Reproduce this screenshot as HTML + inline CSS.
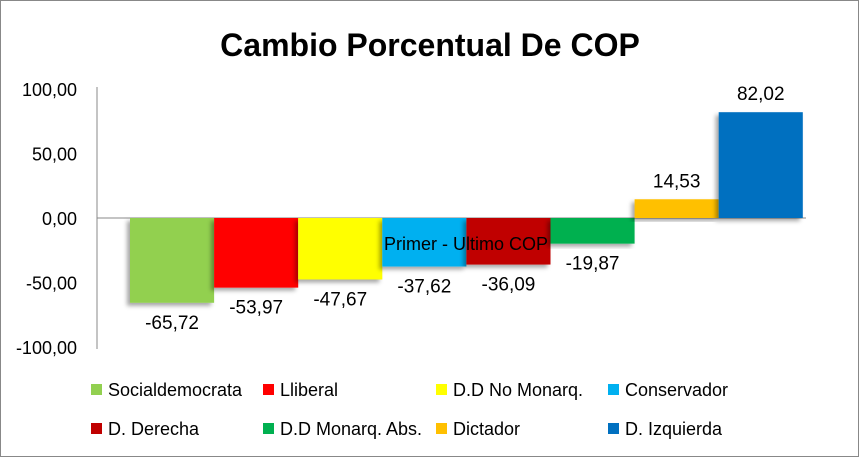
<!DOCTYPE html>
<html><head><meta charset="utf-8"><style>
body{margin:0;background:#fff}
svg{display:block;font-family:"Liberation Sans",sans-serif}
</style></head><body>
<svg id="chart" width="859" height="457">
<defs><filter id="sh" x="-20%" y="-20%" width="140%" height="140%"><feDropShadow dx="-3" dy="3" stdDeviation="2" flood-color="#000" flood-opacity="0.35"/></filter></defs>
<rect x="0.5" y="0.5" width="858" height="456" fill="#fff" stroke="#888"/>
<text x="430" y="56" text-anchor="middle" font-size="32" font-weight="bold" fill="#000">Cambio Porcentual De COP</text>
<g id="yaxis"></g><g id="bars"></g><g id="labels"></g><g id="legend"></g>
<text x="466" y="250" text-anchor="middle" font-size="18" fill="#000">Primer - Ultimo COP</text>
</svg>
<script>
const categories=["Socialdemocrata","Lliberal","D.D No Monarq.","Conservador","D. Derecha","D.D Monarq. Abs.","Dictador","D. Izquierda"];
const values=[-65.72,-53.97,-47.67,-37.62,-36.09,-19.87,14.53,82.02];
const colors=["#92d050","#ff0000","#ffff00","#00b0f0","#c00000","#00b050","#ffc000","#0070c0"];
const ticks=[100,50,0,-50,-100];
const NS="http://www.w3.org/2000/svg";
const y0=218,scale=1.29,x0=130,bw=84.1;
const y=v=>y0-v*scale;
const fmt=v=>v.toFixed(2).replace('.',',');
function mk(t,a,p){const e=document.createElementNS(NS,t);for(const k in a)e.setAttribute(k,a[k]);p.appendChild(e);return e;}
const ya=document.getElementById('yaxis');
let ax=mk('line',{x1:97,x2:97,y1:y(100)-2,y2:y(-100)+2,stroke:'#888'},ya);


ticks.forEach(t=>{const e=mk('text',{x:77,y:y(t)+7,'text-anchor':'end','font-size':18,fill:'#000'},ya);e.textContent=fmt(t);

});
let zl=mk('line',{x1:97,x2:806,y1:y0,y2:y0,stroke:'#888'},ya);


const bg=document.getElementById('bars'),lg=document.getElementById('labels');
values.forEach((v,i)=>{const x=x0+i*bw;const top=Math.min(y(v),y0),h=Math.abs(y(v)-y0);
const r=mk('rect',{x:x,y:top,width:bw,height:h,fill:colors[i],filter:'url(#sh)'},bg);


const ly=v<0?y(v)+26:y(v)-12;
const t=mk('text',{x:x+bw/2,y:ly,'text-anchor':'middle','font-size':19,fill:'#000'},lg);t.textContent=fmt(v);

});
const leg=document.getElementById('legend');
const colX=[91,263,436,608],rowY=[389,428];
categories.forEach((c,i)=>{const cx=colX[i%4],cy=rowY[Math.floor(i/4)];
const g=mk('g',{},leg);


mk('rect',{x:cx,y:cy-5,width:11,height:11,fill:colors[i]},g);
const t=mk('text',{x:cx+17,y:cy+7,'font-size':18,fill:'#000'},g);t.textContent=c;});
</script>
</body></html>
